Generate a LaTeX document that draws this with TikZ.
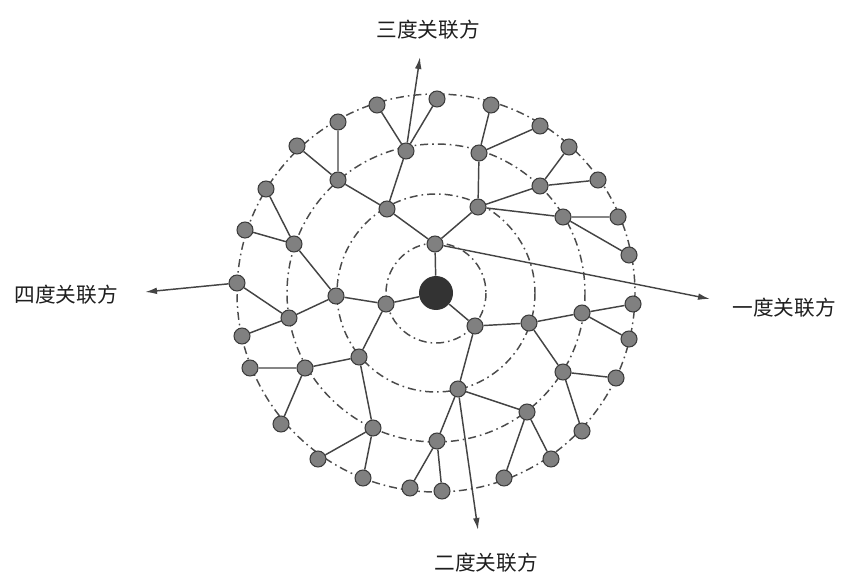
\documentclass[tikz,border=0pt]{standalone}
\usepackage{fontspec}
\newfontfamily\cjk{Noto Sans CJK SC}
\usetikzlibrary{arrows.meta}

\begin{document}
\begin{tikzpicture}[x=0.75pt,y=0.75pt,yscale=-1,xscale=1,
  ring/.style={draw={rgb, 255:red, 75; green, 75; blue, 75 },line width=1.1,dash pattern=on 6pt off 3pt on 1.2pt off 3pt},
  party/.style={circle,draw={rgb, 255:red, 60; green, 60; blue, 60 },fill={rgb, 255:red, 128; green, 128; blue, 128 },line width=0.8,inner sep=0pt,minimum size=12pt},
  hub/.style={circle,fill={rgb, 255:red, 51; green, 51; blue, 51 },inner sep=0pt,minimum size=25.5pt},
  link/.style={draw={rgb, 255:red, 68; green, 68; blue, 68 },line width=1.1},
  pointer/.style={link,-{Latex[length=9pt,width=5pt]}},
  caption/.style={font=\cjk\fontsize{15.5}{18}\selectfont,text={rgb, 255:red, 30; green, 30; blue, 30 }}]
\useasboundingbox (0,0) rectangle (842,577);

%Shape: Circle (rings)
\foreach \r in {50,99,149,199}
  \draw [ring] (436,293) circle [radius=\r];

%Shape: Circle (centre)
\node [hub] (o) at (436,293) {};

%Shape: Circle (first ring)
\node [party] (r1a) at (435,244) {};
\node [party] (r1b) at (386,304) {};
\node [party] (r1c) at (475,326) {};

%Shape: Circle (second ring)
\node [party] (r2a) at (387,209) {};
\node [party] (r2b) at (478,207) {};
\node [party] (r2c) at (336,296) {};
\node [party] (r2d) at (359,357) {};
\node [party] (r2e) at (458,389) {};
\node [party] (r2f) at (529,323) {};

%Shape: Circle (third ring)
\node [party] (r3a) at (338,180) {};
\node [party] (r3b) at (406,151) {};
\node [party] (r3c) at (479,153) {};
\node [party] (r3d) at (540,186) {};
\node [party] (r3e) at (563,217) {};
\node [party] (r3f) at (294,244) {};
\node [party] (r3g) at (289,318) {};
\node [party] (r3h) at (305,368) {};
\node [party] (r3i) at (373,428) {};
\node [party] (r3j) at (437,441) {};
\node [party] (r3k) at (527,412) {};
\node [party] (r3l) at (563,372) {};
\node [party] (r3m) at (582,313) {};

%Shape: Circle (fourth ring)
\node [party] (r4a1) at (338,122) {};
\node [party] (r4a2) at (297,146) {};
\node [party] (r4b1) at (377,105) {};
\node [party] (r4b2) at (437,99) {};
\node [party] (r4c1) at (491,105) {};
\node [party] (r4c2) at (540,126) {};
\node [party] (r4d1) at (569,147) {};
\node [party] (r4d2) at (598,180) {};
\node [party] (r4e1) at (618,217) {};
\node [party] (r4e2) at (629,255) {};
\node [party] (r4f1) at (266,189) {};
\node [party] (r4f2) at (245,230) {};
\node [party] (r4g1) at (237,283) {};
\node [party] (r4g2) at (242,336) {};
\node [party] (r4h1) at (250,368) {};
\node [party] (r4h2) at (281,424) {};
\node [party] (r4i1) at (318,459) {};
\node [party] (r4i2) at (363,478) {};
\node [party] (r4j1) at (410,488) {};
\node [party] (r4j2) at (442,491) {};
\node [party] (r4k1) at (504,478) {};
\node [party] (r4k2) at (551,459) {};
\node [party] (r4l1) at (616,378) {};
\node [party] (r4l2) at (582,431) {};
\node [party] (r4m1) at (633,304) {};
\node [party] (r4m2) at (629,339) {};

%Straight Lines
\draw [link] (o) -- (r1a) (o) -- (r1b) (o) -- (r1c);
\draw [link] (r1a) -- (r2a) (r1a) -- (r2b);
\draw [link] (r1b) -- (r2c) (r1b) -- (r2d);
\draw [link] (r1c) -- (r2e) (r1c) -- (r2f);
\draw [link] (r2a) -- (r3a) (r2a) -- (r3b);
\draw [link] (r2b) -- (r3c) (r2b) -- (r3d) (r2b) -- (r3e);
\draw [link] (r2c) -- (r3f) (r2c) -- (r3g);
\draw [link] (r2d) -- (r3h) (r2d) -- (r3i);
\draw [link] (r2e) -- (r3j) (r2e) -- (r3k);
\draw [link] (r2f) -- (r3l) (r2f) -- (r3m);
\foreach \p in {a,b,c,d,e,f,g,h,i,j,k,l,m}
  \draw [link] (r3\p) -- (r4\p1) (r3\p) -- (r4\p2);

%Straight Lines (arrows)
\coordinate (t1) at (710,299);
\coordinate (t2) at (478,530);
\coordinate (t3) at (420,57);
\coordinate (t4) at (145,292);
\draw [pointer] (r1a) -- (t1);
\draw [pointer] (r2e) -- (t2);
\draw [pointer] (r3b) -- (t3);
\draw [pointer] (r4g1) -- (t4);

% Text Node
\node [caption] (l1) at (784,308) {一度关联方};
% Text Node
\node [caption] (l2) at (486,563) {二度关联方};
% Text Node
\node [caption] (l3) at (428,30) {三度关联方};
% Text Node
\node [caption] (l4) at (66,295) {四度关联方};

\end{tikzpicture}
\end{document}
